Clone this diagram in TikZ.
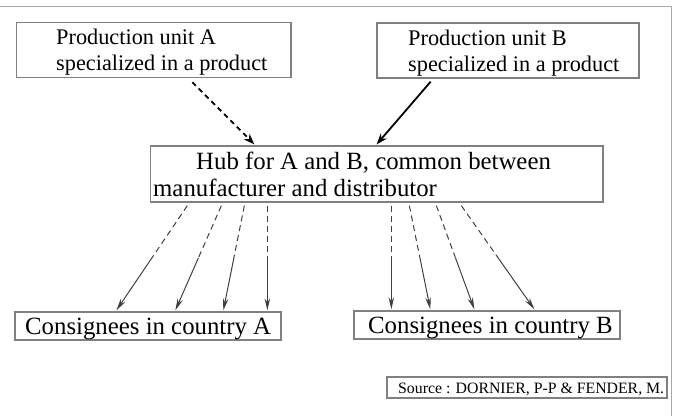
\documentclass[tikz,border=0pt]{standalone}
\usepackage{fontspec}
\setmainfont{Liberation Serif}
\usetikzlibrary{arrows.meta,calc}
\definecolor{boxgray}{HTML}{808080}
\definecolor{framegray}{HTML}{A8A8A8}
\definecolor{arrgray}{HTML}{404040}
\begin{document}
\begin{tikzpicture}[x=1pt,y=-1pt,
  box/.style={draw=boxgray,line width=1.3pt,inner sep=0pt},
  lbl/.style={anchor=base west,inner sep=0pt,font=\fontsize{22.3}{26}\selectfont},
  biglbl/.style={anchor=base west,inner sep=0pt,font=\fontsize{24.8}{27}\selectfont},
  srclbl/.style={anchor=base west,inner sep=0pt,font=\fontsize{15.8}{18}\selectfont},
  bigarrow/.style={line width=1.8pt,-{Stealth[length=11pt,width=8pt]}},
  thinarrow/.style={draw=arrgray,line width=1pt,-{Stealth[length=12pt,width=5.5pt]}},
  thindash/.style={draw=arrgray,line width=1pt,dash pattern=on 6pt off 4pt}]
\useasboundingbox (0,0) rectangle (677,416);
% frame
\draw[framegray,line width=1pt] (0,6.5) -- (671,6.5) -- (671,416);
% boxes
\node[box,minimum width=274.5pt,minimum height=55pt] (pa) at (153.75,50) {};
\node[box,minimum width=262pt,minimum height=55pt] (pb) at (508,50.5) {};
\node[box,minimum width=452.5pt,minimum height=56pt] (hub) at (376.75,174) {};
\node[box,minimum width=266pt,minimum height=28pt] (ca) at (148,326) {};
\node[box,minimum width=266pt,minimum height=28pt] (cb) at (487,325) {};
\node[box,minimum width=280pt,minimum height=21pt] (src) at (527,387.5) {};
% texts
\node[lbl] (pa1) at (56,44) {Production unit A};
\node[lbl] (pa2) at (56,70) {specialized in a product};
\node[lbl] (pb1) at (408,45) {Production unit B};
\node[lbl] (pb2) at (408,71) {specialized in a product};
\node[biglbl] (hub1) at (196,169) {Hub for A and B, common between};
\node[biglbl] (hub2) at (153,196) {manufacturer and distributor};
\node[biglbl] (ca1) at (25,334) {Consignees in country A};
\node[biglbl] (cb1) at (368,333) {Consignees in country B};
\node[srclbl] (src1) at (398,393) {Source : DORNIER, P-P \& FENDER, M.};
% top arrows
\draw[bigarrow,dash pattern=on 5pt off 4pt] ([xshift=176.5pt,yshift=-4pt]pa.south west) -- ([xshift=104.5pt,yshift=1pt]hub.north west);
\draw[bigarrow] ([xshift=-209pt,yshift=-3pt]pb.south east) -- ([xshift=-227pt,yshift=1pt]hub.north east);
% lower arrows, left group
\foreach \a/\b in {37.5/102,71.5/161,94.5/209,117.5/253}{
  \path ([xshift=\a pt,yshift=-3pt]hub.south west) coordinate (s)
        ([xshift=\b pt,yshift=1pt]ca.north west) coordinate (e);
  \draw[thindash] (s) -- ($(s)!0.5!(e)$);
  \draw[thinarrow] ($(s)!0.5!(e)$) -- (e);
}
% lower arrows, right group
\foreach \a/\b in {241.5/38,259.5/77,286.5/121,311.5/181}{
  \path ([xshift=\a pt,yshift=-3pt]hub.south west) coordinate (s)
        ([xshift=\b pt,yshift=1pt]cb.north west) coordinate (e);
  \draw[thindash] (s) -- ($(s)!0.5!(e)$);
  \draw[thinarrow] ($(s)!0.5!(e)$) -- (e);
}
\end{tikzpicture}
\end{document}
